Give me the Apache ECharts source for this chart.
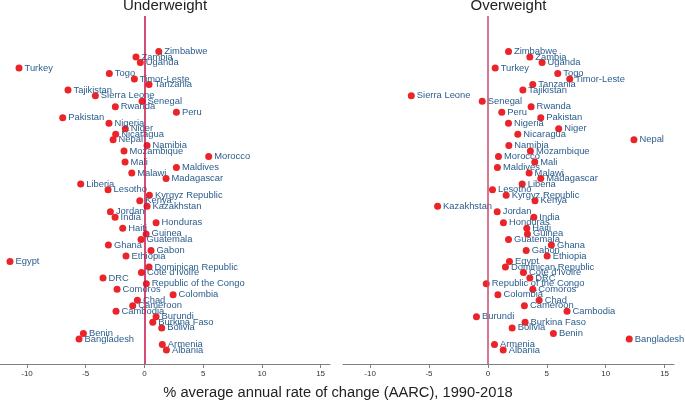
<!DOCTYPE html>
<html>
<head>
<meta charset="utf-8">
<script src="https://cdn.jsdelivr.net/npm/echarts@6/dist/echarts.min.js"></script>
<style>
  html, body { margin: 0; padding: 0; background: #fff; }
  #chart { width: 685px; height: 401px; }
</style>
</head>
<body>
<div id="chart"></div>
<script>
// countries listed bottom to top
const countries = ['Albania', 'Armenia', 'Bangladesh', 'Benin', 'Bolivia', 'Burkina Faso', 'Burundi',
  'Cambodia', 'Cameroon', 'Chad', 'Colombia', 'Comoros', 'Republic of the Congo', 'DRC', "Cote d'Ivoire",
  'Dominican Republic', 'Egypt', 'Ethiopia', 'Gabon', 'Ghana', 'Guatemala', 'Guinea', 'Haiti', 'Honduras',
  'India', 'Jordan', 'Kazakhstan', 'Kenya', 'Kyrgyz Republic', 'Lesotho', 'Liberia', 'Madagascar', 'Malawi',
  'Maldives', 'Mali', 'Morocco', 'Mozambique', 'Namibia', 'Nepal', 'Nicaragua', 'Niger', 'Nigeria',
  'Pakistan', 'Peru', 'Rwanda', 'Senegal', 'Sierra Leone', 'Tajikistan', 'Tanzania', 'Timor-Leste',
  'Togo', 'Turkey', 'Uganda', 'Zambia', 'Zimbabwe'];

const underweight = [1.87, 1.52, -5.57, -5.2, 1.47, 0.71, 0.99,
  -2.42, -1.0, -0.6, 2.44, -2.33, 0.16, -3.53, -0.26,
  0.39, -11.45, -1.57, 0.56, -3.07, -0.29, 0.14, -1.85, 0.99,
  -2.5, -2.9, 0.22, -0.4, 0.42, -3.1, -5.43, 1.84, -1.08,
  2.72, -1.65, 5.47, -1.74, 0.22, -2.67, -2.45, -1.63, -3.02,
  -6.96, 2.72, -2.48, -0.2, -4.18, -6.51, 0.39, -0.86,
  -2.99, -10.68, -0.35, -0.72, 1.22];

const overweight = [1.3, 0.56, 12.0, 5.56, 2.06, 3.16, -0.97,
  6.72, 3.1, 4.35, 0.85, 3.81, -0.14, 3.56, 3.02,
  1.49, 1.83, 5.03, 3.25, 5.39, 1.75, 3.36, 3.3, 1.32,
  3.9, 0.79, -4.27, 4.0, 1.55, 0.39, 2.91, 4.49, 3.5,
  0.81, 3.98, 0.9, 3.61, 1.78, 12.4, 2.54, 6.01, 1.75,
  4.49, 1.18, 3.67, -0.48, -6.5, 2.97, 3.81, 6.95,
  5.93, 0.62, 4.6, 3.56, 1.75];

const xTicks = [-10, -5, 0, 5, 10, 15];

const chart = echarts.init(document.getElementById('chart'));

const xAxisOf = (idx) => ({
  type: 'value',
  gridIndex: idx,
  min: -12.3,
  max: 15.8,
  splitLine: { show: false },
  axisLine: { show: true, onZero: false, lineStyle: { color: '#7f7f7f', width: 1 } },
  axisTick: { show: true, length: 4, customValues: xTicks, lineStyle: { color: '#7f7f7f' } },
  axisLabel: { customValues: xTicks, fontSize: 8, color: '#333', margin: 6, fontFamily: 'Liberation Sans' }
});

const yAxisOf = (idx) => ({
  type: 'value',
  gridIndex: idx,
  min: -2.53,
  max: 60.4,
  show: false
});

const seriesOf = (idx, values, lineColor) => ({
  type: 'scatter',
  xAxisIndex: idx,
  yAxisIndex: idx,
  data: values.map((v, i) => [v, i]),
  symbolSize: 7,
  itemStyle: { color: '#ea2429', opacity: 1 },
  label: {
    show: true,
    position: 'right',
    distance: 2,
    formatter: (p) => countries[p.dataIndex],
    color: '#2b5d8c',
    fontSize: 9.4,
    fontFamily: 'Liberation Sans'
  },
  labelLayout: { hideOverlap: false },
  markLine: {
    silent: true,
    symbol: 'none',
    label: { show: false },
    lineStyle: { color: lineColor, width: 1.5, type: 'solid' },
    data: [{ xAxis: 0 }]
  },
  z: 3
});

chart.setOption({
  animation: false,
  grid: [
    { left: 0, width: 330, top: 16, bottom: 37 },
    { left: 343, width: 331, top: 16, bottom: 37 }
  ],
  xAxis: [xAxisOf(0), xAxisOf(1)],
  yAxis: [yAxisOf(0), yAxisOf(1)],
  series: [
    seriesOf(0, underweight, '#c5124a'),
    seriesOf(1, overweight, '#c94a6c')
  ],
  graphic: [
    { type: 'text', x: 165, y: 6, style: { text: 'Underweight', fontSize: 15, fill: '#222', align: 'center', verticalAlign: 'middle', fontFamily: 'Liberation Sans' } },
    { type: 'text', x: 508.5, y: 6, style: { text: 'Overweight', fontSize: 15, fill: '#222', align: 'center', verticalAlign: 'middle', fontFamily: 'Liberation Sans' } },
    { type: 'text', x: 338, y: 393, style: { text: '% average annual rate of change (AARC), 1990-2018', fontSize: 14.7, fill: '#222', align: 'center', verticalAlign: 'middle', fontFamily: 'Liberation Sans' } }
  ]
});
</script>
</body>
</html>
